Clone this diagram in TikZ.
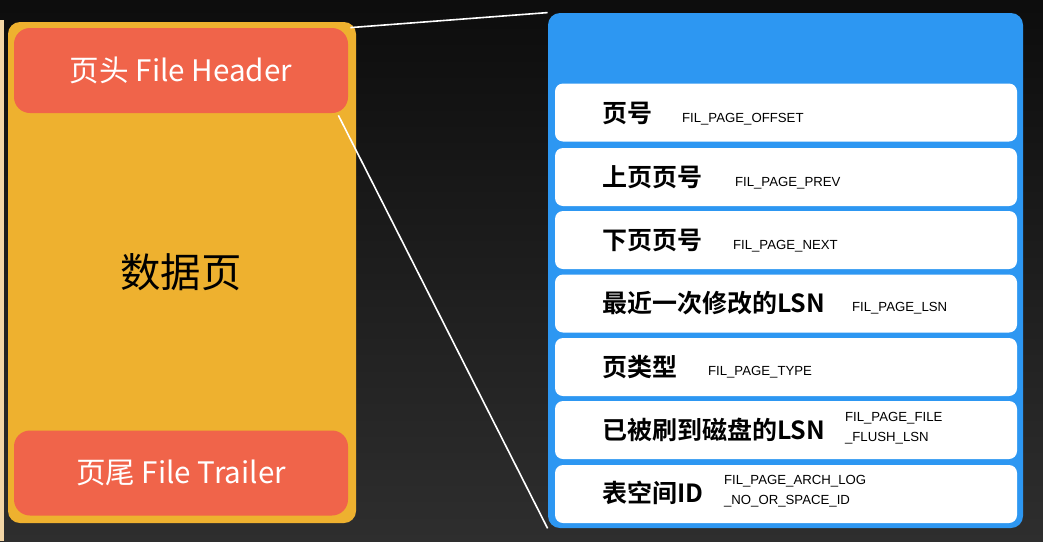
\documentclass[tikz,border=0pt]{standalone}
\usepackage{fontspec}
\usepackage{xcolor}
\usepackage{tikz}
\setmainfont{Noto Sans CJK SC}
\newfontfamily\cjkb{Noto Sans CJK SC}[BoldFont={* Bold}]
\newfontfamily\fieldfont{Liberation Sans}

\definecolor{pageyellow}{HTML}{EEB12F}
\definecolor{headred}{HTML}{F0644A}
\definecolor{detailblue}{HTML}{2D97F2}
\definecolor{edgebeige}{HTML}{F3D6A6}

\tikzset{
  part/.style={rectangle,rounded corners=8pt,fill=headred,text=white,minimum width=167pt,minimum height=42.5pt,font=\fontsize{14.8}{17}\selectfont},
  fieldrow/.style={rectangle,rounded corners=4pt,fill=white,minimum width=231pt,minimum height=29pt},
  rowname/.style={anchor=west,font=\cjkb\bfseries\fontsize{12.5}{14}\selectfont},
  fieldname/.style={anchor=west,align=left,font=\fieldfont\fontsize{6.6}{10}\selectfont}
}

\begin{document}
\begin{tikzpicture}[x=0.5pt,y=-0.5pt]
        % Background
        \shade[top color=black!95,bottom color=black!82] (0,0) rectangle (1043,541);
        \fill[edgebeige] (0,20) rectangle (4,541);
        \useasboundingbox (0,0) rectangle (1043,541);
        % Data page
        \node[rectangle,rounded corners=6pt,fill=pageyellow,minimum width=174pt,minimum height=250.5pt] (page) at (182,272.5) {};
        \node[font=\fontsize{20.2}{22}\selectfont] (pagetitle) at (181,272) {数据页};
        \node[part] (head) at (181,70.5) {页头 File Header};
        \node[part] (trail) at (181,473) {页尾 File Trailer};
        % Header detail
        \node[rectangle,rounded corners=6pt,fill=detailblue,minimum width=237.5pt,minimum height=257.5pt] (detail) at (785.5,270.5) {};
        \draw[white,line width=0.8pt] ([xshift=1pt]head.north east) -- (detail.north west);
        \draw[white,line width=0.8pt] ([xshift=-5pt,yshift=-1pt]head.south east) -- (detail.south west);
        % Rows
        \node[fieldrow] (r1) at (786,112.5) {};
        \node[fieldrow] (r2) at (786,177) {};
        \node[fieldrow] (r3) at (786,240) {};
        \node[fieldrow] (r4) at (786,303.5) {};
        \node[fieldrow] (r5) at (786,367) {};
        \node[fieldrow] (r6) at (786,430) {};
        \node[fieldrow] (r7) at (786,494) {};
        \node[rowname] (n1) at (595,113) {页号};
        \node[fieldname] (f1) at (675,119) {FIL\_PAGE\_OFFSET};
        \node[rowname] (n2) at (595,177) {上页页号};
        \node[fieldname] (f2) at (728,183) {FIL\_PAGE\_PREV};
        \node[rowname] (n3) at (595,240) {下页页号};
        \node[fieldname] (f3) at (726,246) {FIL\_PAGE\_NEXT};
        \node[rowname] (n4) at (595,303) {最近一次修改的LSN};
        \node[fieldname] (f4) at (845,308) {FIL\_PAGE\_LSN};
        \node[rowname] (n5) at (595,367) {页类型};
        \node[fieldname] (f5) at (701,372) {FIL\_PAGE\_TYPE};
        \node[rowname] (n6) at (595,430) {已被刷到磁盘的LSN};
        \node[fieldname] (f6) at (838,428) {FIL\_PAGE\_FILE\\\_FLUSH\_LSN};
        \node[rowname] (n7) at (595,493) {表空间ID};
        \node[fieldname] (f7) at (717,491) {FIL\_PAGE\_ARCH\_LOG\\\_NO\_OR\_SPACE\_ID};
      \end{tikzpicture}
\end{document}
